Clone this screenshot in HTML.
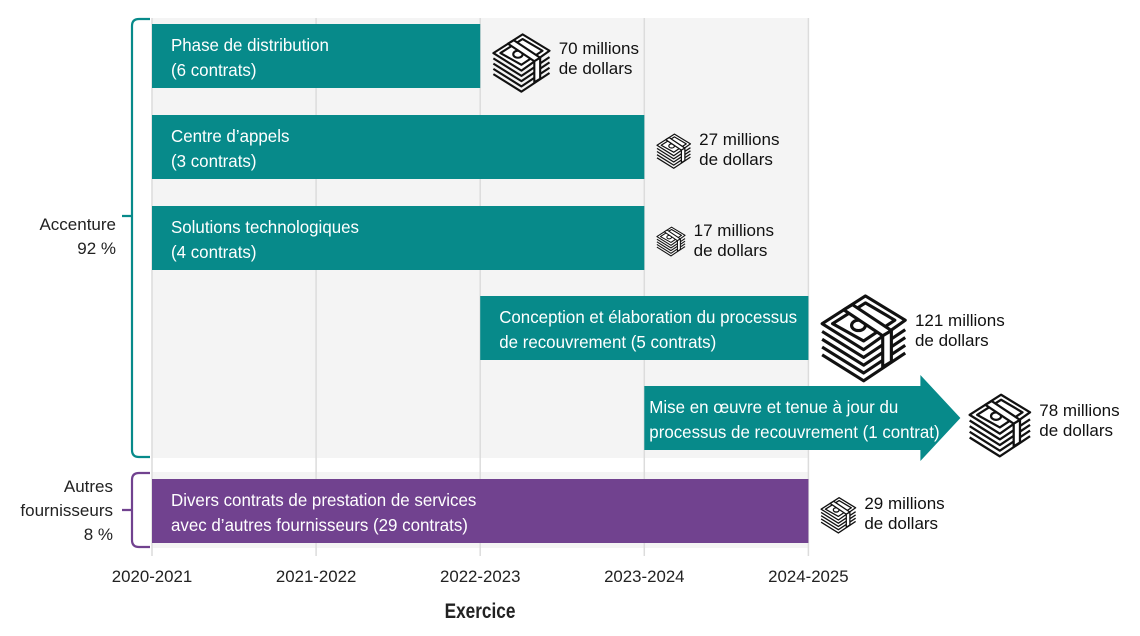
<!DOCTYPE html>
<html><head><meta charset="utf-8"><style>
html,body{margin:0;padding:0;background:#fff;}
svg{display:block;font-family:"Liberation Sans",sans-serif;}
</style></head><body>
<svg id="chart" width="1140" height="636" viewBox="0 0 1140 636" xmlns="http://www.w3.org/2000/svg">
<rect x="152" y="18" width="656" height="440" fill="#f4f4f4"/>
<rect x="152" y="472" width="656" height="76" fill="#f4f4f4"/>
<g id="grid"></g>
<g id="bars"></g>
<g id="icons"></g>
<path d="M150,19 H139 Q132,19 132,26 V450 Q132,457 139,457 H150 M132,216 H122" fill="none" stroke="#078a8a" stroke-width="2.2"/>
<path d="M150,473 H139 Q132,473 132,480 V540 Q132,547 139,547 H150 M132,510 H122" fill="none" stroke="#71428f" stroke-width="2.2"/>
<g id="labels"></g>
</svg>
<script>
const years = ["2020-2021","2021-2022","2022-2023","2023-2024","2024-2025"];
const barLines1 = ["Phase de distribution","Centre d’appels","Solutions technologiques","Conception et élaboration du processus","Mise en œuvre et tenue à jour du","Divers contrats de prestation de services"];
const barLines2 = ["(6 contrats)","(3 contrats)","(4 contrats)","de recouvrement (5 contrats)","processus de recouvrement (1 contrat)","avec d’autres fournisseurs (29 contrats)"];
const startIdx = [0,0,0,2,3,0];
const endIdx = [2,3,3,4,4,4];
const amounts = [70,27,17,121,78,29];
const groups = ["accenture","accenture","accenture","accenture","accenture","others"];
const arrowFlag = [0,0,0,0,1,0];

const NS="http://www.w3.org/2000/svg";
const X0=152, STEP=164.1;
function xScale(i){return X0+STEP*i;}
const rowTop=[24,115,206,296,386,479];
const BH=64;
function el(tag,attrs,parent){const e=document.createElementNS(NS,tag);for(const k in attrs)e.setAttribute(k,attrs[k]);parent.appendChild(e);return e;}
function ctext(parent,x,y,str,size,fill,weight,anchor,sx){
  const t=el('text',{transform:`translate(${x},${y}) scale(${sx||0.86},1)`,'font-size':size,fill:fill,'font-weight':weight||'normal','text-anchor':anchor||'start'},parent);
  t.textContent=str;return t;}
const grid=document.getElementById('grid'),bars=document.getElementById('bars'),icons=document.getElementById('icons'),labels=document.getElementById('labels');
years.forEach((y,i)=>{
  const l=el('line',{x1:xScale(i),x2:xScale(i),y1:18,y2:556,stroke:'#dcdcdc','stroke-width':1.5},grid);
  
  
  const t=ctext(labels,xScale(i),582,y,17,'#222','normal','middle',0.99);
  
  
});
const xt=ctext(labels,480,618,"Exercice",21,'#222','bold','middle',0.82);


const g1=ctext(labels,116,230,"Accenture",17,'#222','normal','end',1.0);


const g1b=ctext(labels,116,254,"92 %",17,'#222','normal','end',1.0);


[["Autres",492],["fournisseurs",516],["8 %",540]].forEach((a,i)=>{
  const t=ctext(labels,113,a[1],a[0],17,'#222','normal','end',1.0);
  
  
});
function drawIcon(parent,x,y,w){
  const s=w/100;
  const g=el('g',{transform:`translate(${x},${y}) scale(${s})`,fill:'none',stroke:'#111','stroke-width':3.6,'stroke-linejoin':'round'},parent);
  for(let k=4;k>=1;k--){el('polyline',{points:`2,${40+k*9} 50,${70+k*9} 98,${38+k*9}`},g);}
  el('polygon',{points:"2,40 52,8 98,36 50,70",fill:'#fff'},g);
  el('polygon',{points:"14,40 52,16 86,36 50,60"},g);
  el('ellipse',{cx:44,cy:42,rx:8,ry:6},g);
  el('polygon',{points:"27,24 37,18 82,48 72,54",fill:'#fff'},g);
  el('polygon',{points:"72,54 82,48 82,84 72,90",fill:'#fff'},g);
  return g;
}
amounts.forEach((v,i)=>{
  const xa=xScale(startIdx[i]), xb=xScale(endIdx[i]), top=rowTop[i];
  const fill=groups[i]==='others'?'#71428f':'#078a8a';
  let shape, endX=xb;
  if(arrowFlag[i]){
    const bx=xb+112, tip=bx+40, cy=top+BH/2;
    shape=el('polygon',{points:`${xa},${top} ${bx},${top} ${bx},${top-11} ${tip},${cy} ${bx},${top+BH+11} ${bx},${top+BH} ${xa},${top+BH}`,fill:fill},bars);
    endX=tip;
  } else {
    shape=el('rect',{x:xa,y:top,width:xb-xa,height:BH,fill:fill},bars);
  }
  
  
  const ind=arrowFlag[i]?5:19;
  const t1=ctext(bars,xa+ind,top+27,barLines1[i],18,'#fff','normal','start',0.94);
  
  
  const t2=ctext(bars,xa+ind,top+52,barLines2[i],18,'#fff','normal','start',0.94);
  
  
  const w=20+0.55*v, h=w*0.9, cy=top+BH/2;
  const ix=endX+(arrowFlag[i]?8:12);
  const ic=drawIcon(icons,ix,cy-h/2,w);
  
  
  const lx=ix+w+8;
  const a1=ctext(labels,lx,cy-2,v+" millions",17,'#111','normal','start',1.0);
  
  
  const a2=ctext(labels,lx,cy+18,"de dollars",17,'#111','normal','start',1.0);
  
  
});
</script>
</body></html>
